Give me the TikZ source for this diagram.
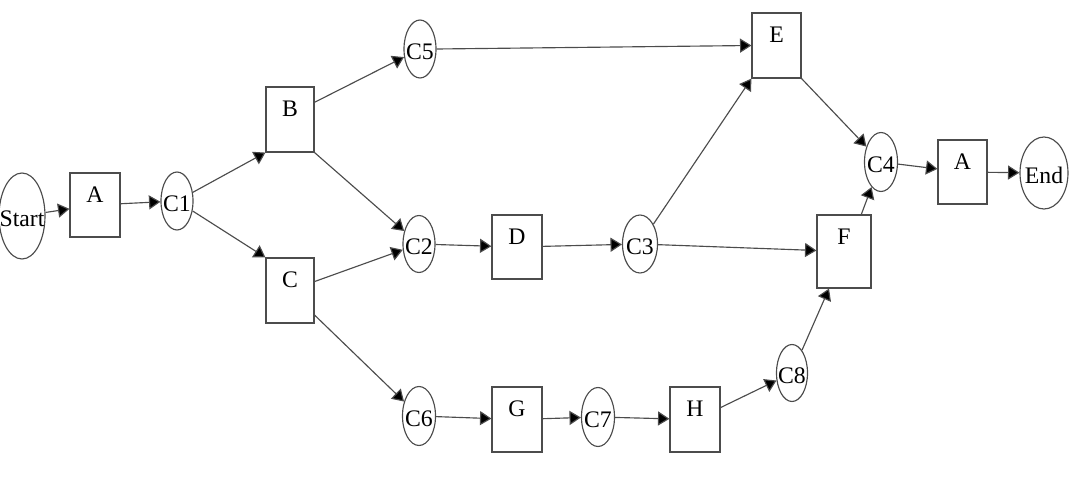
\documentclass[tikz,border=0pt]{standalone}
\usepackage{fontspec}
\setmainfont{Liberation Serif}
\usetikzlibrary{arrows.meta,shapes.geometric}
\begin{document}
\begin{tikzpicture}[x=0.02cm,y=-0.02cm,
  font=\fontsize{13.5}{15}\selectfont,
  linecol/.style={draw=black!70, line width=0.65pt},
  stepbox/.style args={#1/#2/#3}{linecol, rectangle, inner sep=0pt,
    minimum width=#2*0.02cm, minimum height=#3*0.02cm,
    label={[anchor=base, inner sep=0pt, yshift=-0.6cm]north:#1}},
  cond/.style args={#1/#2/#3}{linecol, ellipse, inner sep=0pt,
    minimum width=#2*0.02cm, minimum height=#3*0.02cm,
    label={[inner sep=0pt, yshift=-0.05cm]center:#1}},
  flow/.style={linecol, -{Triangle[length=6.5pt,width=8pt,fill=black]}}]
  \useasboundingbox (0,0) rectangle (1083,483);

  % terminals and connector points
  \node[cond=Start/46/86] (start) at (22,216) {};
  \node[cond=End/48/72]   (end)   at (1044,173) {};
  \node[cond=C1/32/58] (c1) at (177,201) {};
  \node[cond=C5/32/58] (c5) at (420,49) {};
  \node[cond=C2/32/57] (c2) at (419,244) {};
  \node[cond=C3/35/58] (c3) at (640,244) {};
  \node[cond=C6/33/59] (c6) at (419,416) {};
  \node[cond=C7/33/59] (c7) at (598,417) {};
  \node[cond=C8/31/57] (c8) at (792,373) {};
  \node[cond=C4/33/59] (c4) at (881,162) {};

  % activities
  \node[stepbox=A/50/64] (a1) at (95,205) {};
  \node[stepbox=B/48/65] (b)  at (290,119.5) {};
  \node[stepbox=C/48/65] (c)  at (290,290.5) {};
  \node[stepbox=E/49/65] (e)  at (776.5,45.5) {};
  \node[stepbox=D/50/64] (d)  at (517,247) {};
  \node[stepbox=G/50/65] (g)  at (517,419.5) {};
  \node[stepbox=H/50/65] (h)  at (695,419.5) {};
  \node[stepbox=F/54/73] (f)  at (844,251.5) {};
  \node[stepbox=A/49/64] (a2) at (962.5,172) {};

  % flows
  \draw[flow] (start) -- (a1);
  \draw[flow] (a1) -- (c1);
  \draw[flow] (c1) -- (b.south west);
  \draw[flow] (c1) -- (c.north west);
  \draw[flow] (b.35) -- (c5);
  \draw[flow] (b.south east) -- (c2);
  \draw[flow] (c.20) -- (c2);
  \draw[flow] (c.-45) -- (c6);
  \draw[flow] (c5.east) -- (e.west);
  \draw[flow] (c2) -- (d);
  \draw[flow] (d) -- (c3);
  \draw[flow] (c3) -- (e.south west);
  \draw[flow] (c3) -- (f);
  \draw[flow] (e.south east) -- (c4);
  \draw[flow] (f.65) -- (c4);
  \draw[flow] (c4) -- (a2);
  \draw[flow] (a2) -- (end);
  \draw[flow] (c6) -- (g);
  \draw[flow] (g) -- (c7);
  \draw[flow] (c7) -- (h);
  \draw[flow] (h.25) -- (c8);
  \draw[flow] (c8) -- (f.-112);
\end{tikzpicture}
\end{document}
